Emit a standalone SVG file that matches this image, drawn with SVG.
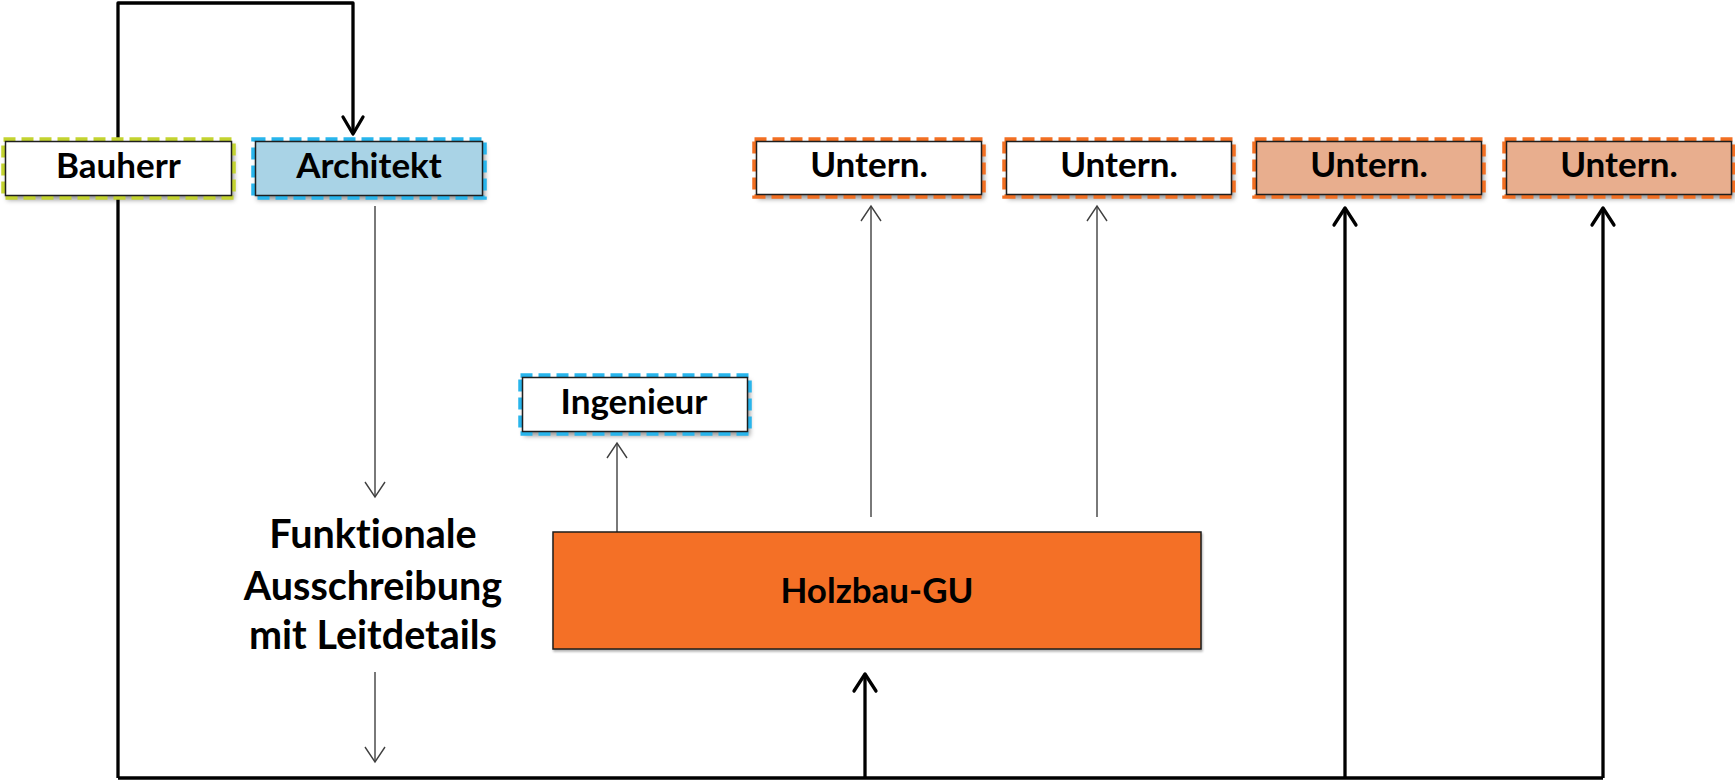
<svg xmlns="http://www.w3.org/2000/svg" width="1735" height="781" viewBox="0 0 1735 781">
<defs>
<filter id="sh" x="-10%" y="-30%" width="120%" height="170%">
<feDropShadow dx="2" dy="4" stdDeviation="2.5" flood-color="#000" flood-opacity="0.4"/>
</filter>
<filter id="sh2" x="-5%" y="-10%" width="110%" height="120%">
<feDropShadow dx="1" dy="2" stdDeviation="1" flood-color="#000" flood-opacity="0.3"/>
</filter>
</defs>
<style>
.box{stroke:#1e1e1e;stroke-width:1.5}
.dash{fill:none;stroke-width:4.5;stroke-dasharray:12 6}
.lbl{font-family:Lato,"Open Sans","Liberation Sans",sans-serif;font-weight:bold;font-size:35px;fill:#000;text-anchor:middle;font-variant-ligatures:none;font-feature-settings:"liga" 0}
.mid{font-size:39.5px}
.thick{fill:none;stroke:#000;stroke-width:3.3;stroke-linejoin:round}
.thin{fill:none;stroke:#404040;stroke-width:1.4}
.ah{fill:none;stroke:#000;stroke-width:3.3;stroke-linecap:round;stroke-linejoin:round}
.ahthin{fill:none;stroke:#404040;stroke-width:1.4;stroke-linejoin:miter}
</style>

<g id="connectors">
<path class="thick" d="M118,778 L118,3 L353,3 L353,134"/>
<path class="ah" d="M343,117 L353,134 L363,117"/>
<path class="thick" d="M118,778 L1603,778"/>
<path class="thick" d="M865,778 L865,674"/>
<path class="ah" d="M854,691 L865,674 L876,691"/>
<path class="thick" d="M1345,778 L1345,208"/>
<path class="ah" d="M1334,225 L1345,208 L1356,225"/>
<path class="thick" d="M1603,778 L1603,208"/>
<path class="ah" d="M1592,225 L1603,208 L1614,225"/>
<path class="thin" d="M375,206 L375,497"/>
<path class="ahthin" d="M365,482 L375,497 L385,482"/>
<path class="thin" d="M375,672 L375,762"/>
<path class="ahthin" d="M365,747 L375,762 L385,747"/>
<path class="thin" d="M617,532 L617,443"/>
<path class="ahthin" d="M607,458 L617,443 L627,458"/>
<path class="thin" d="M871,517 L871,206"/>
<path class="ahthin" d="M861,221 L871,206 L881,221"/>
<path class="thin" d="M1097,517 L1097,206"/>
<path class="ahthin" d="M1087,221 L1097,206 L1107,221"/>
</g>

<g id="bauherr">
<rect x="5" y="141" width="227" height="55" fill="#fff" filter="url(#sh)"/>
<rect class="dash" x="3.5" y="139.5" width="230" height="58" stroke="#c3d330"/>
<rect class="box" x="5.5" y="141.5" width="226" height="54" fill="none"/>
<text class="lbl" x="118.5" y="177.5">Bauherr</text>
</g>

<g id="architekt">
<rect x="255" y="141" width="228" height="55" fill="#a9d3e6" filter="url(#sh)"/>
<rect class="dash" x="253.5" y="139.5" width="231" height="58" stroke="#28b5ec"/>
<rect class="box" x="255.5" y="141.5" width="227" height="54" fill="none"/>
<text class="lbl" x="369" y="177.5">Architekt</text>
</g>

<g id="untern1">
<rect x="756" y="141" width="226" height="54" fill="#fff" filter="url(#sh)"/>
<rect class="dash" x="754.5" y="139.5" width="229" height="57" stroke="#f26f22"/>
<rect class="box" x="756.5" y="141.5" width="225" height="53" fill="none"/>
<text class="lbl" x="869" y="177">Untern.</text>
</g>

<g id="untern2">
<rect x="1006" y="141" width="226" height="54" fill="#fff" filter="url(#sh)"/>
<rect class="dash" x="1004.5" y="139.5" width="229" height="57" stroke="#f26f22"/>
<rect class="box" x="1006.5" y="141.5" width="225" height="53" fill="none"/>
<text class="lbl" x="1119" y="177">Untern.</text>
</g>

<g id="untern3">
<rect x="1256" y="141" width="226" height="54" fill="#e8ae8e" filter="url(#sh)"/>
<rect class="dash" x="1254.5" y="139.5" width="229" height="57" stroke="#f26f22"/>
<rect class="box" x="1256.5" y="141.5" width="225" height="53" fill="none"/>
<text class="lbl" x="1369" y="177">Untern.</text>
</g>

<g id="untern4">
<rect x="1506" y="141" width="226" height="54" fill="#e8ae8e" filter="url(#sh)"/>
<rect class="dash" x="1504.5" y="139.5" width="229" height="57" stroke="#f26f22"/>
<rect class="box" x="1506.5" y="141.5" width="225" height="53" fill="none"/>
<text class="lbl" x="1619" y="177">Untern.</text>
</g>

<g id="ingenieur">
<rect x="522" y="377" width="226" height="55" fill="#fff" filter="url(#sh)"/>
<rect class="dash" x="520.5" y="375.5" width="229" height="58" stroke="#28b5ec"/>
<rect class="box" x="522.5" y="377.5" width="225" height="54" fill="none"/>
<text class="lbl" x="634" y="413.5">Ingenieur</text>
</g>

<g id="holzbau">
<rect class="box" x="553" y="532" width="648" height="117" fill="#f47026" filter="url(#sh2)"/>
<text class="lbl" x="877" y="603">Holzbau-GU</text>
</g>

<g id="ausschreibung">
<text class="lbl mid" x="373" y="548">Funktionale</text>
<text class="lbl mid" x="373" y="600">Ausschreibung</text>
<text class="lbl mid" x="373" y="649">mit Leitdetails</text>
</g>
</svg>
